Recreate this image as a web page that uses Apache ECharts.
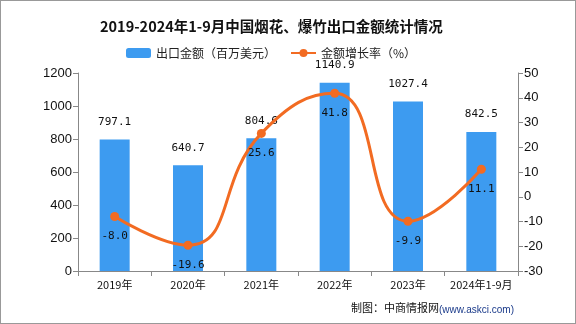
<!DOCTYPE html>
<html><head><meta charset="utf-8">
<script src="https://cdn.jsdelivr.net/npm/echarts@6/dist/echarts.min.js"></script>
<style>html,body{margin:0;padding:0;background:#fff}#c{width:574px;height:322px;border:1px solid #999;}</style>
</head><body><div id="c"></div>
<script>
const categories = ['2019年','2020年','2021年','2022年','2023年','2024年1-9月'];
const exportValue = [797.1, 640.7, 804.6, 1140.9, 1027.4, 842.5];
const growthRate = [-8.0, -19.6, 25.6, 41.8, -9.9, 11.1];
const leftTicks = [0, 1200, 200];
const rightTicks = [-30, 50, 10];
const chart = echarts.init(document.getElementById('c'));
const mono = '"DejaVu Sans Mono", monospace';
const cjk = '"Noto Sans CJK SC", sans-serif';
chart.setOption({
  animation: false,
  title: { text: '2019-2024年1-9月中国烟花、爆竹出口金额统计情况', left: 94, top: 13,
    textStyle: { fontSize: 14.5, fontWeight: 'bold', color: '#111', fontFamily: cjk } },
  legend: { top: 41, left: 120, itemWidth: 25, itemHeight: 10, itemGap: 14,
    textStyle: { fontSize: 12, color: '#222', fontFamily: cjk },
    data: [{ name: '出口金额（百万美元）' }, { name: '金额增长率（%）' }] },
  grid: { left: 77, right: 57, top: 72, bottom: 52 },
  xAxis: { type: 'category', data: categories,
    axisLine: { lineStyle: { color: '#888' } },
    axisTick: { show: true, alignWithLabel: false, interval: 0, lineStyle: { color: '#888' } },
    axisLabel: { color: '#111', fontSize: 11, fontFamily: cjk, margin: 8, interval: 0 } },
  yAxis: [
    { type: 'value', min: leftTicks[0], max: leftTicks[1], interval: leftTicks[2],
      axisLine: { show: true, lineStyle: { color: '#888' } },
      axisTick: { show: true, lineStyle: { color: '#888' } },
      splitLine: { show: false },
      axisLabel: { color: '#111', fontSize: 13, fontFamily: 'Liberation Sans, sans-serif', margin: 6,
        formatter: v => String(v) } },
    { type: 'value', min: rightTicks[0], max: rightTicks[1], interval: rightTicks[2],
      axisLine: { show: true, lineStyle: { color: '#888' } },
      axisTick: { show: true, lineStyle: { color: '#888' } },
      splitLine: { show: false },
      axisLabel: { color: '#111', fontSize: 13, fontFamily: 'Liberation Sans, sans-serif', margin: 6,
        formatter: v => String(v) } }
  ],
  series: [
    { name: '出口金额（百万美元）', type: 'bar', data: exportValue, barWidth: 30,
      itemStyle: { color: '#3d9bf0' },
      label: { show: true, position: 'top', distance: 12, color: '#111', fontSize: 11, fontFamily: mono,
        formatter: p => p.value.toFixed(1) } },
    { name: '金额增长率（%）', type: 'line', yAxisIndex: 1, data: growthRate, smooth: 0.5,
      symbol: 'circle', symbolSize: 9,
      lineStyle: { color: '#f26b22', width: 3 }, itemStyle: { color: '#f26b22' },
      label: { show: true, position: 'bottom', distance: 10, color: '#111', fontSize: 11, fontFamily: mono,
        formatter: p => p.value.toFixed(1) } }
  ],
  graphic: [{ type: 'text', left: 350, top: 301,
    style: { text: '制图：中商情报网', fill: '#111', font: '11px ' + cjk } },
    { type: 'text', left: 438, top: 304,
    style: { text: '(www.askci.com)', fill: '#1a3a8a', font: '10px "Liberation Sans", sans-serif' } }]
});
</script></body></html>
